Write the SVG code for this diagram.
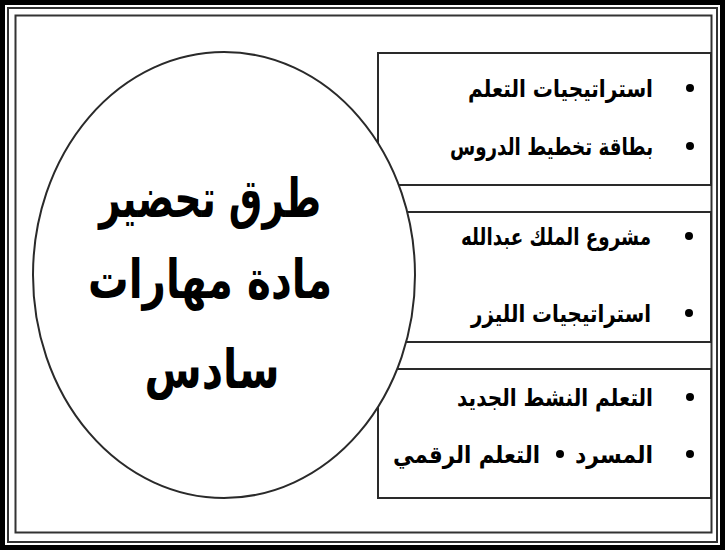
<svg xmlns="http://www.w3.org/2000/svg" width="725" height="550" viewBox="0 0 725 550">
<style>
.frame{fill:none}
.panel{fill:#fff;stroke:#2a2a2a;stroke-width:2}
.item{font-family:"DejaVu Sans",sans-serif;font-weight:bold;font-size:24px;fill:#000}
.title{font-family:"DejaVu Sans",sans-serif;font-weight:bold;font-size:54px;fill:#000}
.bullet{fill:#000}
</style>
<rect width="725" height="550" fill="#fff"/>
<g id="frame" class="frame">
  <rect x="2.5" y="2.5" width="720" height="545" stroke="#000" stroke-width="5"/>
  <rect x="8" y="8" width="709" height="534" stroke="#333" stroke-width="2"/>
  <rect x="15.5" y="15.5" width="696" height="517" stroke="#333" stroke-width="2"/>
</g>
<g id="panel1">
  <rect class="panel" x="378" y="53" width="333" height="132"/>
  <circle class="bullet" cx="690" cy="88" r="4"/>
  <text class="item" x="653" y="97" text-anchor="end" textLength="185" lengthAdjust="spacingAndGlyphs">استراتيجيات التعلم</text>
  <circle class="bullet" cx="690" cy="146" r="4"/>
  <text class="item" x="653" y="155" text-anchor="end" textLength="203" lengthAdjust="spacingAndGlyphs">بطاقة تخطيط الدروس</text>
</g>
<g id="panel2">
  <rect class="panel" x="378" y="212" width="333" height="130"/>
  <circle class="bullet" cx="689" cy="236" r="4"/>
  <text class="item" x="651" y="245" text-anchor="end" textLength="190" lengthAdjust="spacingAndGlyphs">مشروع الملك عبدالله</text>
  <circle class="bullet" cx="689" cy="313" r="4"/>
  <text class="item" x="651" y="322" text-anchor="end" textLength="180" lengthAdjust="spacingAndGlyphs">استراتيجيات الليزر</text>
</g>
<g id="panel3">
  <rect class="panel" x="378" y="369" width="333" height="129"/>
  <circle class="bullet" cx="690" cy="397" r="4"/>
  <text class="item" x="653" y="406" text-anchor="end" textLength="196" lengthAdjust="spacingAndGlyphs">التعلم النشط الجديد</text>
  <circle class="bullet" cx="690" cy="454" r="4"/>
  <text class="item" x="653" y="463" text-anchor="end" textLength="78" lengthAdjust="spacingAndGlyphs">المسرد</text>
  <circle class="bullet" cx="560" cy="454" r="4"/>
  <text class="item" x="540" y="463" text-anchor="end" textLength="147" lengthAdjust="spacingAndGlyphs">التعلم الرقمي</text>
</g>
<g id="connectors"></g>
<g id="center">
  <ellipse cx="224" cy="275" rx="191" ry="223" fill="#fff" stroke="#2a2a2a" stroke-width="2"/>
  <text class="title" x="210" y="217" text-anchor="middle" textLength="222" lengthAdjust="spacingAndGlyphs">طرق تحضير</text>
  <text class="title" x="210" y="298" text-anchor="middle" textLength="244" lengthAdjust="spacingAndGlyphs">مادة مهارات</text>
  <text class="title" x="212" y="388" text-anchor="middle" textLength="135" lengthAdjust="spacingAndGlyphs">سادس</text>
</g>
</svg>
